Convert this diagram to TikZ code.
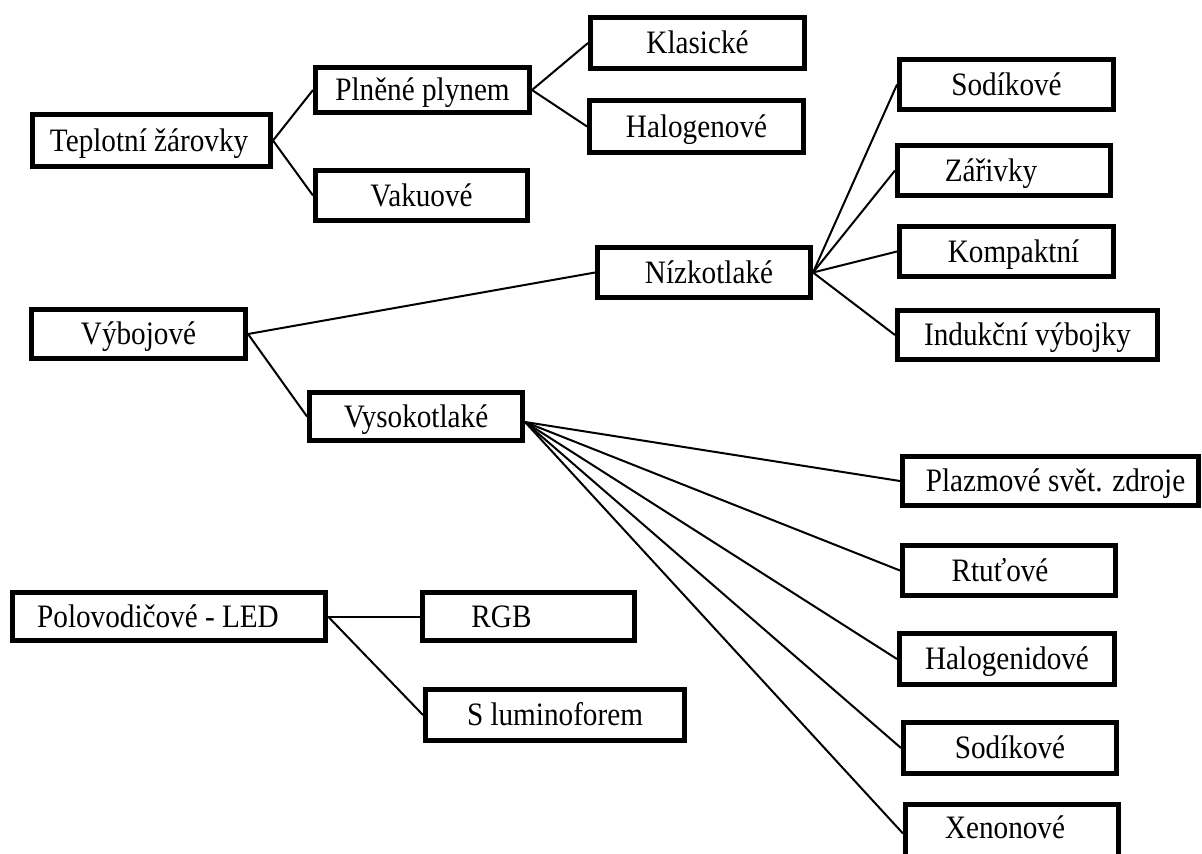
\documentclass[tikz,border=0pt]{standalone}
\usepackage{fontspec}
\usepackage{graphicx}
\setmainfont{Liberation Serif}
\newcommand\shtxt[2]{\hbox to 0pt{\hss\kern#1\relax\scalebox{1}[1.12]{#2}\kern-#1\relax\hss}}
\begin{document}
\begin{tikzpicture}[x=0.5pt,y=-0.5pt,
  box/.style={draw=black, line width=2.5pt, fill=white, inner sep=0pt,
    font=\fontsize{14.6}{17}\selectfont, text height=14.4pt, text depth=3.6pt},
  link/.style={draw=black, line width=1pt}]
\clip (0,0) rectangle (1202,853);
\useasboundingbox (0,0) rectangle (1202,853);
\fill[white] (0,0) rectangle (1202,853);
% level 0
\node[box, minimum width=119pt, minimum height=26pt] (tep) at (151.5,140.5) {\shtxt{-1.2pt}{Teplotní žárovky}};
\node[box, minimum width=107pt, minimum height=24.5pt] (vyb) at (138.5,334) {\shtxt{0pt}{Výbojové}};
\node[box, minimum width=156.5pt, minimum height=24pt] (pol) at (169,616.5) {\shtxt{-5.5pt}{Polovodičové - LED}};
% level 1
\node[box, minimum width=107pt, minimum height=22.5pt] (pln) at (422.5,90) {\shtxt{0pt}{Plněné plynem}};
\node[box, minimum width=106pt, minimum height=25pt] (vak) at (421.5,195.5) {\shtxt{0pt}{Vakuové}};
\node[box, minimum width=106.5pt, minimum height=25pt] (niz) at (704,272.5) {\shtxt{2.5pt}{Nízkotlaké}};
\node[box, minimum width=106.5pt, minimum height=24pt] (vys) at (416,416.5) {\shtxt{0pt}{Vysokotlaké}};
\node[box, minimum width=106pt, minimum height=24pt] (rgb) at (528.5,616.5) {\shtxt{-13.5pt}{RGB}};
\node[box, minimum width=129.5pt, minimum height=25.5pt] (slu) at (555,715) {\shtxt{0pt}{S luminoforem}};
% level 2
\node[box, minimum width=107pt, minimum height=25.5pt] (kla) at (697.5,43) {\shtxt{0pt}{Klasické}};
\node[box, minimum width=107pt, minimum height=26pt] (hal) at (696.5,126.5) {\shtxt{0pt}{Halogenové}};
\node[box, minimum width=107pt, minimum height=25pt] (sodA) at (1006.5,84.5) {\shtxt{0pt}{Sodíkové}};
\node[box, minimum width=106.5pt, minimum height=25pt] (zar) at (1004,170.5) {\shtxt{-6.5pt}{Zářivky}};
\node[box, minimum width=107pt, minimum height=25pt] (kom) at (1006.5,251.5) {\shtxt{3.5pt}{Kompaktní}};
\node[box, minimum width=130pt, minimum height=24.5pt] (ind) at (1027.5,335) {\shtxt{0pt}{Indukční výbojky}};
\node[box, minimum width=148pt, minimum height=24.5pt] (pla) at (1050.5,481) {\shtxt{2.5pt}{Plazmové svět. zdroje}};
\node[box, minimum width=106.5pt, minimum height=25pt] (rtu) at (1009,570.5) {\shtxt{-4.5pt}{Rtuťové}};
\node[box, minimum width=107.5pt, minimum height=25.5pt] (hgd) at (1007,659) {\shtxt{0pt}{Halogenidové}};
\node[box, minimum width=106.5pt, minimum height=25.5pt] (sodB) at (1010,748) {\shtxt{0pt}{Sodíkové}};
\node[box, minimum width=106.5pt, minimum height=28pt, text height=11.9pt, text depth=6.1pt] (xen) at (1012,832.5) {\shtxt{-3.5pt}{Xenonové}};
% connectors
\coordinate (vysE) at ([yshift=-2.75pt]vys.east);
\coordinate (xenW) at ([yshift=-0.5pt]xen.west);
\draw[link] (tep.east) -- (pln.west);
\draw[link] (tep.east) -- (vak.west);
\draw[link] (pln.east) -- (kla.west);
\draw[link] (pln.east) -- (hal.west);
\draw[link] (vyb.east) -- (niz.west);
\draw[link] (vyb.east) -- (vys.west);
\draw[link] (niz.east) -- (sodA.west);
\draw[link] (niz.east) -- (zar.west);
\draw[link] (niz.east) -- (kom.west);
\draw[link] (niz.east) -- (ind.west);
\draw[link] (vysE) -- (pla.west);
\draw[link] (vysE) -- (rtu.west);
\draw[link] (vysE) -- (hgd.west);
\draw[link] (vysE) -- (sodB.west);
\draw[link] (vysE) -- (xenW);
\draw[link] (pol.east) -- (rgb.west);
\draw[link] (pol.east) -- (slu.west);
\end{tikzpicture}
\end{document}
